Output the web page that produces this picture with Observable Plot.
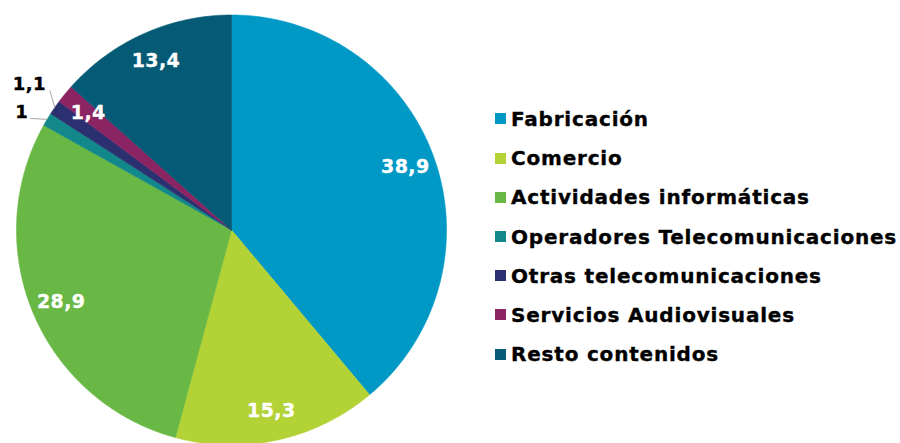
<!DOCTYPE html>
<html>
<head>
<meta charset="utf-8">
<script src="https://cdn.jsdelivr.net/npm/d3@7"></script>
<script src="https://cdn.jsdelivr.net/npm/@observablehq/plot@0.6"></script>
<style>
  html, body { margin: 0; padding: 0; background: #fff; }
  #wrap { position: relative; width: 900px; height: 443px; overflow: hidden; }
  #legend { position: absolute; left: 495px; top: 99.4px; font-family: "DejaVu Sans", Verdana, sans-serif; font-weight: bold; font-size: 20px; letter-spacing: 0.8px; color: #000; -webkit-text-stroke: 0.35px #000; }
  .row { display: flex; align-items: center; height: 39.2px; white-space: nowrap; }
  .sw { width: 11px; height: 11px; margin-right: 5px; flex: none; -webkit-text-stroke: 0; }
  svg text { letter-spacing: 0.4px; }
</style>
</head>
<body>
<div id="wrap"><div id="legend"></div></div>
<script>
// ---- data ----
const categories = ["Fabricación", "Comercio", "Actividades informáticas", "Operadores Telecomunicaciones", "Otras telecomunicaciones", "Servicios Audiovisuales", "Resto contenidos"];
const values = [38.9, 15.3, 28.9, 1, 1.1, 1.4, 13.4];
const labels = ["38,9", "15,3", "28,9", "1", "1,1", "1,4", "13,4"];
const colors = ["#0099c6", "#b3d236", "#69b845", "#12888a", "#2b3170", "#8b2462", "#055b75"];
const outsideNames = ["Operadores Telecomunicaciones", "Otras telecomunicaciones"];

// ---- layout ----
const cx = 231, cy = 229.5, R = 215;
const px = 1 / R; // one pixel in data units
const labelRadius = 0.86;
const outsideLayout = {
  "Operadores Telecomunicaciones": {lead: [-17, -1], text: [-2, -6]},
  "Otras telecomunicaciones": {lead: [-5, -17], text: [-4, -6]}
};

const total = d3.sum(values);
const slices = [];
let acc = 0;
categories.forEach((name, i) => {
  const a0 = acc / total * 2 * Math.PI;
  acc += values[i];
  const a1 = acc / total * 2 * Math.PI;
  slices.push({name, value: values[i], label: labels[i], a0, a1, mid: (a0 + a1) / 2});
});
const polar = (a, r) => [r * Math.sin(a), r * Math.cos(a)];

// slice polygons
const wedgePts = [];
for (const s of slices) {
  const n = Math.max(2, Math.ceil((s.a1 - s.a0) / (Math.PI / 360)));
  wedgePts.push({name: s.name, x: 0, y: 0});
  for (let k = 0; k <= n; k++) {
    const [x, y] = polar(s.a0 + (s.a1 - s.a0) * k / n, 1);
    wedgePts.push({name: s.name, x, y});
  }
  wedgePts.push({name: s.name, x: 0, y: 0});
}

const inside = slices.filter(s => !outsideNames.includes(s.name)).map(s => {
  const [x, y] = polar(s.mid, labelRadius);
  return {x, y, label: s.label};
});
const leaders = [], outsideText = [];
for (const s of slices.filter(s => outsideNames.includes(s.name))) {
  const L = outsideLayout[s.name];
  const [ex, ey] = polar(s.mid, 1);
  const kx = ex + L.lead[0] * px, ky = ey - L.lead[1] * px;
  leaders.push({x1: ex, y1: ey, x2: kx, y2: ky});
  outsideText.push({x: kx + L.text[0] * px, y: ky - L.text[1] * px, label: s.label});
}

const chart = Plot.plot({
  width: 900,
  height: 443,
  margin: 0,
  x: {type: "linear", domain: [-1, 1], range: [cx - R, cx + R], axis: null},
  y: {type: "linear", domain: [-1, 1], range: [cy + R, cy - R], axis: null},
  color: {domain: categories, range: colors},
  style: {background: "transparent", overflow: "visible"},
  marks: [
    Plot.line(wedgePts, {x: "x", y: "y", z: "name", fill: "name", stroke: "name", strokeWidth: 0.6, curve: "linear"}),
    Plot.text(inside, {x: "x", y: "y", text: "label", fill: "white", stroke: "white", strokeWidth: 0.3, fontWeight: "bold", fontSize: 19, fontFamily: "DejaVu Sans, Verdana, sans-serif"}),
    Plot.link(leaders, {x1: "x1", y1: "y1", x2: "x2", y2: "y2", stroke: "#a5a5a5", strokeWidth: 1}),
    Plot.text(outsideText, {x: "x", y: "y", text: "label", fill: "black", stroke: "black", strokeWidth: 0.4, textAnchor: "end", fontWeight: "bold", fontSize: 18, fontFamily: "DejaVu Sans, Verdana, sans-serif"})
  ]
});
chart.style.position = "absolute";
chart.style.left = "0px";
chart.style.top = "0px";
document.getElementById("wrap").prepend(chart);

const legend = document.getElementById("legend");
categories.forEach((name, i) => {
  const row = document.createElement("div");
  row.className = "row";
  const sw = document.createElement("span");
  sw.className = "sw";
  sw.style.background = colors[i];
  const t = document.createElement("span");
  t.textContent = name;
  row.append(sw, t);
  legend.append(row);
});
</script>
</body>
</html>
